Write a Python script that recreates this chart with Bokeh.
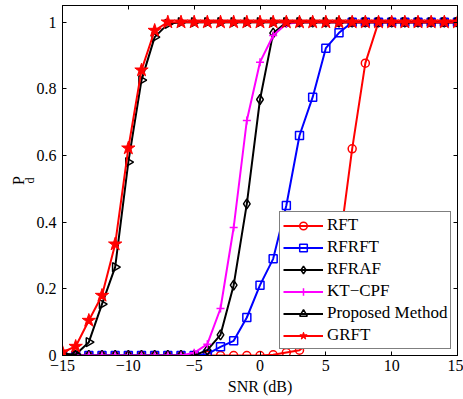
import numpy as np
from bokeh.plotting import figure
from bokeh.models import Legend, LegendItem, LinearAxis, FixedTicker, Title, Range1d
from bokeh.embed import file_html
from bokeh.resources import INLINE

snr = [-15, -14, -13, -12, -11, -10, -9, -8, -7, -6, -5, -4, -3, -2, -1, 0,
       1, 2, 3, 4, 5, 6, 7, 8, 9, 10, 11, 12, 13, 14, 15]

rft = [0, 0, 0, 0, 0, 0, 0, 0, 0, 0, 0, 0, 0, 0, 0, 0,
       0.002, 0.009, 0.016, 0.05, 0.14, 0.32, 0.62, 0.877, 1, 1, 1, 1, 1, 1, 1]
rfrft = [0, 0, 0, 0, 0, 0, 0, 0, 0, 0, 0, 0.004, 0.026, 0.044, 0.114, 0.211,
         0.29, 0.45, 0.66, 0.775, 0.922, 0.968, 1, 1, 1, 1, 1, 1, 1, 1, 1]
rfraf = [0, 0, 0, 0, 0, 0, 0, 0, 0, 0, 0, 0.016, 0.062, 0.211, 0.455, 0.768,
         0.967, 1, 1, 1, 1, 1, 1, 1, 1, 1, 1, 1, 1, 1, 1]
ktcpf = [0, 0, 0, 0, 0, 0, 0, 0, 0, 0, 0.008, 0.034, 0.141, 0.384, 0.705, 0.88,
         0.96, 0.995, 1, 1, 1, 1, 1, 1, 1, 1, 1, 1, 1, 1, 1]
proposed = [0.005, 0.003, 0.04, 0.154, 0.265, 0.58, 0.826, 0.955, 0.995, 1, 1, 1, 1, 1, 1, 1,
            1, 1, 1, 1, 1, 1, 1, 1, 1, 1, 1, 1, 1, 1, 1]
grft = [0.01, 0.027, 0.105, 0.18, 0.334, 0.622, 0.856, 0.975, 1, 1, 1, 1, 1, 1, 1, 1,
        1, 1, 1, 1, 1, 1, 1, 1, 1, 1, 1, 1, 1, 1, 1]

series_names = ["RFT", "RFRFT", "RFRAF", "KT\u2212CPF", "Proposed Method", "GRFT"]
x_ticks = [-15, -10, -5, 0, 5, 10, 15]
x_tick_labels = ["\u221215", "\u221210", "\u22125", "0", "5", "10", "15"]
y_ticks = [0, 0.2, 0.4, 0.6, 0.8, 1]
y_tick_labels = ["0", "0.2", "0.4", "0.6", "0.8", "1"]

FONT = "Liberation Serif"

p = figure(width=463, height=399, output_backend="svg", toolbar_location=None,
           x_range=Range1d(-15, 15), y_range=Range1d(0, 1.05),
           min_border_left=62, min_border_right=6, min_border_top=5, min_border_bottom=44)
p.grid.visible = False
p.outline_line_color = "black"
p.outline_line_width = 1
p.background_fill_color = "white"
p.border_fill_color = "white"

def style_axis(ax, ticks, labels, show_labels):
    ax.ticker = FixedTicker(ticks=ticks)
    ax.major_tick_in = 4
    ax.major_tick_out = 0
    ax.minor_tick_line_color = None
    ax.axis_line_color = "black"
    ax.major_tick_line_color = "black"
    ax.major_label_text_font = FONT
    if show_labels:
        ax.major_label_overrides = {t: l for t, l in zip(ticks, labels)}
        ax.major_label_text_font_size = "16px"
        ax.major_label_text_color = "black"
    else:
        ax.major_label_text_color = None
        ax.major_label_text_font_size = "1px"
        ax.major_label_standoff = 0

style_axis(p.xaxis[0], x_ticks, x_tick_labels, True)
style_axis(p.yaxis[0], y_ticks, y_tick_labels, True)
p.xaxis[0].major_label_standoff = 4
p.yaxis[0].major_label_standoff = 6
p.xaxis[0].axis_label = "SNR (dB)"
p.xaxis[0].axis_label_text_font = FONT
p.xaxis[0].axis_label_text_font_size = "16px"
p.xaxis[0].axis_label_text_font_style = "normal"
p.xaxis[0].axis_label_text_color = "black"
p.xaxis[0].axis_label_standoff = 4

top_ax = LinearAxis()
style_axis(top_ax, x_ticks, x_tick_labels, False)
p.add_layout(top_ax, "above")
right_ax = LinearAxis()
style_axis(right_ax, y_ticks, y_tick_labels, False)
p.add_layout(right_ax, "right")

# y-axis label P_d, built from two side titles
p.add_layout(Title(text="d", text_font=FONT, text_font_size="12px", text_font_style="normal",
                   text_color="black", align="center", offset=9, standoff=-6), "left")
p.add_layout(Title(text="P", text_font=FONT, text_font_size="16px", text_font_style="normal",
                   text_color="black", align="center", offset=-2, standoff=-6), "left")

LW = 2
items = []

l = p.line(snr, rft, line_color="red", line_width=LW)
s = p.scatter(snr, rft, marker="circle", size=8, line_color="red", fill_color=None, line_width=1.5)
items.append(LegendItem(label=series_names[0], renderers=[l, s]))

l = p.line(snr, rfrft, line_color="blue", line_width=LW)
s = p.scatter(snr, rfrft, marker="square", size=8, line_color="blue", fill_color=None, line_width=1.5)
items.append(LegendItem(label=series_names[1], renderers=[l, s]))

l = p.line(snr, rfraf, line_color="black", line_width=LW)
s = p.scatter(snr, rfraf, marker="diamond", size=10, line_color="black", fill_color=None, line_width=1.5)
items.append(LegendItem(label=series_names[2], renderers=[l, s]))

l = p.line(snr, ktcpf, line_color="magenta", line_width=LW)
s = p.scatter(snr, ktcpf, marker="cross", size=8, line_color="magenta", line_width=1.5)
items.append(LegendItem(label=series_names[3], renderers=[l, s]))

l = p.line(snr, proposed, line_color="black", line_width=LW)
s = p.scatter(snr, proposed, marker="triangle", size=9, angle=-np.pi / 2, line_color="black",
              fill_color=None, line_width=1.5)
items.append(LegendItem(label=series_names[4], renderers=[l, s]))

l = p.line(snr, grft, line_color="red", line_width=LW)
s = p.scatter(snr, grft, marker="star", size=14, line_color="red", fill_color="red", line_width=1)
items.append(LegendItem(label=series_names[5], renderers=[l, s]))

legend = Legend(items=items, location=(217, 6), margin=0, padding=3, spacing=2,
                label_height=19, glyph_height=19, glyph_width=40, label_standoff=4,
                label_text_font=FONT, label_text_font_size="17px", label_text_color="black",
                border_line_color="black", border_line_width=1,
                background_fill_color="white", background_fill_alpha=1)
p.add_layout(legend, "center")

open("out.html", "w").write(file_html(p, INLINE))
